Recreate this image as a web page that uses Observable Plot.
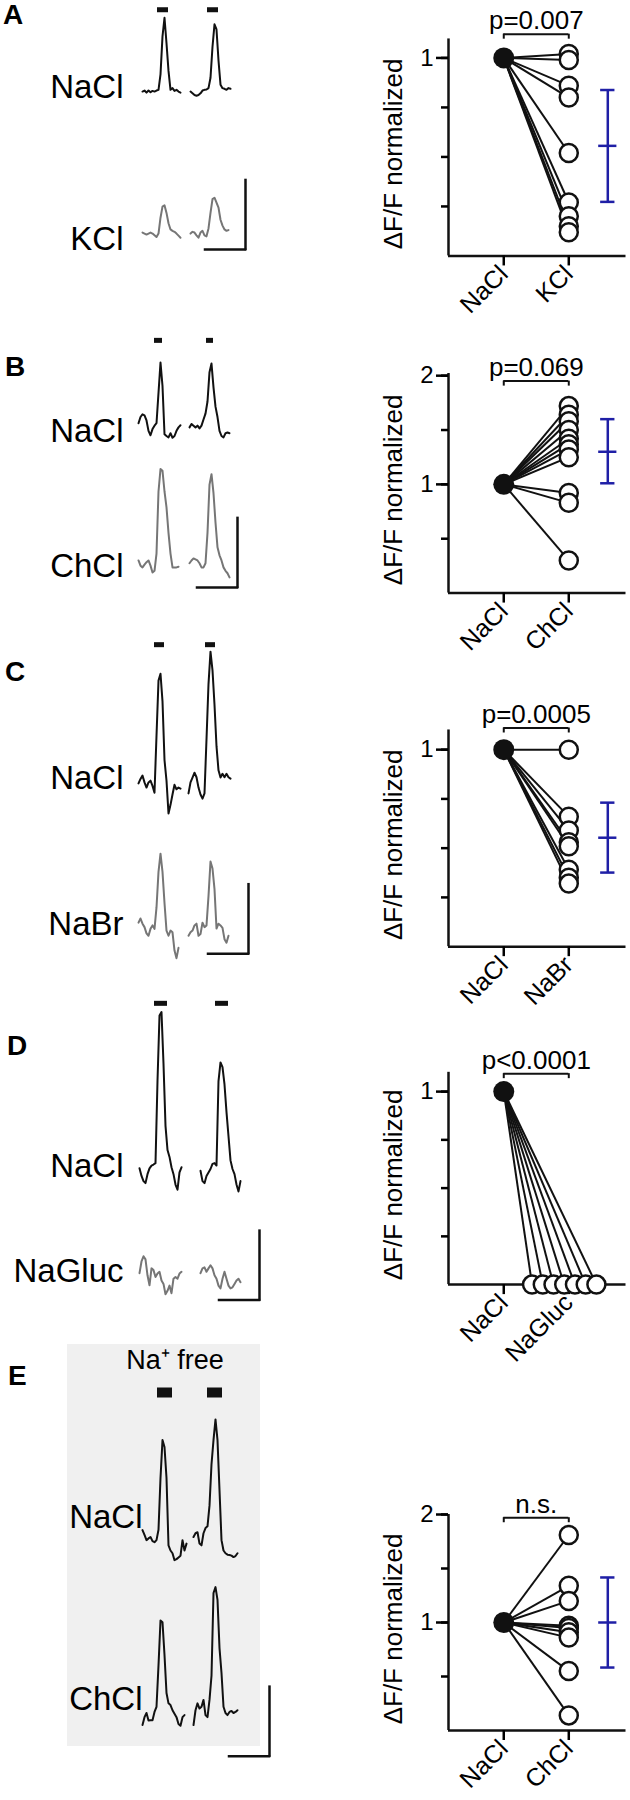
<!DOCTYPE html>
<html><head><meta charset="utf-8">
<script src="https://cdn.jsdelivr.net/npm/d3@7"></script>
<script src="https://cdn.jsdelivr.net/npm/@observablehq/plot@0.6"></script>
<style>
body{margin:0;background:#fff;}
#fig{position:relative;width:630px;height:1800px;overflow:hidden;font-family:"Liberation Sans",Arial,sans-serif;}
.box{position:absolute;}
.letter{position:absolute;font-weight:bold;font-size:28px;line-height:28px;color:#000;}
</style></head><body><div id="fig"></div>
<script>
// ================= DATA =================
const panelLetters = ["A", "B", "C", "D", "E"];
const controlName = "NaCl";
const testNames = ["KCl", "ChCl", "NaBr", "NaGluc", "ChCl"];
const pLabels = ["p=0.007", "p=0.069", "p=0.0005", "p<0.0001", "n.s."];
const yAxisTitle = "ΔF/F normalized";
const naFreeLabel = "Na⁺ free";

// normalized ΔF/F (test / NaCl), one value per cell; NaCl = 1
const controlValue = 1;
const kclValues    = [1.02, 0.99, 0.86, 0.80, 0.52, 0.27, 0.20, 0.15, 0.12];
const chclValues   = [1.72, 1.64, 1.58, 1.50, 1.42, 1.37, 1.32, 1.25, 0.92, 0.83, 0.30];
const nabrValues   = [1.00, 0.66, 0.59, 0.53, 0.51, 0.39, 0.35, 0.32];
const nagluValues  = [0, 0, 0, 0, 0, 0, 0];
const chclFreeValues = [1.81, 1.34, 1.20, 0.97, 0.95, 0.91, 0.86, 0.55, 0.14];

// mean ± SD of the test condition (null = not shown)
const meanValues = [0.556, 1.30, 0.553, null, 1.00];
const sdLow      = [0.273, 1.01, 0.376, null, 0.583];
const sdHigh     = [0.838, 1.60, 0.731, null, 1.417];

// y-axis ticks
const ticksMinorA = [0.25, 0.5, 0.75, 1];
const ticksMinorB = [0.5, 1, 1.5, 2];
const ticksMajorA = [1];
const ticksMajorB = [1, 2];

// example traces, %ΔF/F, two stimulations (sweeps) per condition
const traceA_NaCl = [
  [0, 0.3, -0.3, 0.3, -0.2, 0.2, 0, 0.3, 0.5, 5, 16, 21.4, 14, 6, 0.5, 1, 0.2, 0.5, 0, -0.3],
  [0, -0.5, -1, -1.2, -1, -0.5, 0.3, 0.5, 0.6, 1, 4, 13, 19.5, 18, 9, 2, 1, 0.8, 0.5, 1, 0.8]];
const traceA_KCl = [
  [0.3, 0, -0.3, 0, 0.3, 0, -0.5, -1, 0, 4.6, 7.8, 8.2, 6, 3, 1.2, 0.8, 0.5, 0, -0.6, -1.2],
  [0, 0.5, 0.3, -0.5, -1.2, 0.3, 0.8, -0.5, -0.8, 1.5, 6, 10, 10.4, 9, 7.5, 4, 2.3, 1.2, 0.8, 1]];
const traceB_NaCl = [
  [1.2, 3, 3.8, 3.5, 2, -1, -2.3, -0.5, 0.5, 1.2, 10, 18.8, 12, -2, -2.5, -2.9, -1.7, -3, -2.5, -1, 0, 0.6],
  [0, 1, 0.5, 0, 0.5, -0.3, 0.5, 2.3, 4, 7.5, 16, 18.5, 11.6, 6, 3, -1, -2.5, -2.9, -1.7, -1.5, -1.7]];
const traceB_ChCl = [
  [2, 0.5, 0, 0.8, 1.5, 2, 0.5, -1.5, -1, 4, 22, 28.5, 28, 22, 17.4, 10, 4, 0, 0, 0, 0.2],
  [1.2, 2, 2.6, 2.3, 2, 1.2, 0, 0, 1.2, 10, 24, 27, 21.5, 13, 5.8, 3.5, 2, 0, -1, -1.7, -2.9]];
const traceC_NaCl = [
  [1.2, 2.5, 3.5, 1.5, 0, 1.5, 2, 0.5, -1.5, 15, 31, 33, 25, 8, 2, -7.5, -5, -2, 0.8, -0.5, 0, -0.3],
  [-1.7, 1.5, 2.9, 4.3, 3, 0, -2, -3.2, -1.7, 14, 30, 39.4, 34, 24, 12, 5, 2.9, 4, 3, 4, 3, 2.6]];
const traceC_NaBr = [
  [2.3, 3.5, 2, 1, -0.8, -1.5, 0.5, 1.5, 0.5, 6.7, 17, 22.3, 17, 8, 0, -1.5, 0, -0.5, -5.8, -8, -5],
  [-1.5, -0.5, 0, 1.5, 2, -1.5, -1, 2.3, 1, 1.5, 10, 20, 18, 12, 0.6, 2, 1.5, 0.8, -2.5, -3.5, -1.5]];
const traceD_NaCl = [
  [-0.3, -2.5, -4, -4.6, -2, -0.3, 0.5, 0.8, 1.2, 25, 44, 45, 30, 12, 5, 3, 0, -2, -5, -6.5, -1.5, 0],
  [-1, -4, -4.6, -2.5, -1.5, -0.5, 1, 1.2, 0.5, 25, 30.4, 29, 24, 16, 9, 2, -0.5, -2, -5, -7, -4]];
const traceD_NaGluc = [
  [0.6, 4, 5.5, 4.6, 0, -2.9, 2, 1.5, -0.5, 0.5, 1, -1.5, -2.5, -5.5, -4.5, -3, -5.2, -1, -0.5, -1, 0.5, 1],
  [0.6, 2, 2.3, 1, 2, 2.9, 2, 0, -1, -3, -3.8, -1, 1, -1, -3, -3.8, -3.5, -2.5, -1.5, -1, -2]];
const traceE_NaCl = [
  [2.9, 1.5, 0, 0.5, 0.9, -0.3, -0.6, 0, 3, 18, 29, 27, 18, -1.5, -3, -3.8, -5.8, -5.5, -5, -4.5, 0, -3, -1],
  [0.9, 2, 2.3, -1, -1.5, 2, 3.5, 4, 10, 22, 29, 35, 29, 14.5, 0, -3, -3.8, -4.2, -4.3, -4.5, -4.9, -4.6, -3.8]];
const traceE_ChCl = [
  [-2.3, 0, 1.2, -1, -0.9, -0.9, 1.5, 3, 15, 28, 27.5, 18, 7, 4, 3.5, 2, 1, 0, -2, -2.5, 0, 0.6],
  [-2.3, 2, 4, 2.5, 3, 5, 0.6, 0, 5, 12, 36, 37.7, 34, 20, 12.8, 3, 1.2, 0.6, 1.5, 1.8, 1.2, 1.5, 2]];

// stimulus windows (samples from sweep start)
const stimA = [[7.5, 13], [8.5, 14]];
const stimB = [[8, 12], [8.5, 12]];
const stimC = [[8, 13], [8.5, 13.5]];
const stimD = [[7.5, 14], [7.5, 14]];
const stimE = [[7.5, 15], [7, 14.5]];

// ================= LAYOUT / DRAWING =================
const FONT = '"Liberation Sans", Arial, Helvetica, sans-serif';
const BLUE = "#1f1fa6";
const GRAY = "#767676";
const INK = "#111";
const PPU = 3.45;   // px per %ΔF/F in traces
const PPX = 2;      // px per sample in traces
const fig = document.getElementById("fig");

function place(node, left, top) {
  const d = document.createElement("div");
  d.className = "box";
  d.style.left = left + "px";
  d.style.top = top + "px";
  d.appendChild(node);
  fig.appendChild(d);
}
const baseStyle = {background: "transparent", overflow: "visible", fontFamily: FONT, color: "#000"};

// grey "Na+ free" background (panel E)
const grey = document.createElement("div");
grey.style.cssText = "position:absolute;left:67px;top:1344px;width:193px;height:402px;background:#f0f0f0;";
fig.appendChild(grey);

function tracePanel(p) {
  const ymin = p.ymax - p.S / PPU;
  const labels = [p.rows[0].label, p.rows[1].label];
  const marks = [];
  const stimData = p.stim.map(([a, b], si) => ({cond: labels[0], t1: a + si * p.gap, t2: b + si * p.gap}));
  marks.push(Plot.rect(stimData, {x1: "t1", x2: "t2", y1: p.stimTop, y2: p.stimTop - p.stimH / PPU, fy: "cond", fill: INK}));
  p.rows.forEach(r => {
    const data = r.sweeps.flatMap((arr, si) => arr.map((v, i) => ({cond: r.label, sweep: si, t: i + si * p.gap, v})));
    marks.push(Plot.line(data, {x: "t", y: "v", z: "sweep", fy: "cond", stroke: r.color, strokeWidth: 2, strokeLinejoin: "round"}));
  });
  marks.push(Plot.text(labels.map((l, i) => ({cond: l, t: p.labelT, y: p.labelY[i]})),
    {x: "t", y: "y", fy: "cond", text: "cond", textAnchor: "end", lineAnchor: "bottom", fontSize: 33, fill: "#000"}));
  const bar = [{cond: labels[1], t: p.bar.t, y: p.bar.y}];
  marks.push(Plot.ruleX(bar, {x: "t", y1: "y", y2: d => d.y + 20, fy: "cond", stroke: INK, strokeWidth: 2.5, strokeLinecap: "square"}));
  marks.push(Plot.ruleY(bar, {x1: d => d.t - 20, x2: "t", y: "y", fy: "cond", stroke: INK, strokeWidth: 2.5, strokeLinecap: "square"}));
  if (p.extraText) marks.push(Plot.text([{cond: labels[0], ...p.extraText}], {x: "t", y: "y", fy: "cond", text: "text", lineAnchor: "bottom", fontSize: 27, fill: "#000"}));
  const svg = Plot.plot({
    width: 300, height: 2 * p.S,
    marginTop: 0, marginRight: 0, marginBottom: 0, marginLeft: 0,
    x: {domain: [-p.x0 / PPX, (300 - p.x0) / PPX], axis: null},
    y: {domain: [ymin, p.ymax], axis: null},
    fy: {domain: labels, padding: 0, axis: null},
    style: baseStyle,
    marks
  });
  place(svg, 0, p.baseline1 - p.ymax * PPU);
}

function spreadX(values) {
  const groups = d3.group(values.map((v, i) => ({v, i})), d => d.v);
  const xs = new Array(values.length);
  for (const [, g] of groups) g.forEach((d, k) => xs[d.i] = 0.93 + (k - (g.length - 1) / 2) * 0.165);
  for (const [, g] of groups) if (g.length === 1) xs[g[0].i] = 1;
  return xs;
}

function respPanel(p) {
  const xmin = -0.85, xmax = 1.88;
  const H = p.ymaxR * p.P;
  const xs = spreadX(p.values);
  const pts = p.values.map((v, i) => ({x: xs[i], v}));
  const names = [controlName, p.test];
  const marks = [
    Plot.ruleX([xmin], {y1: 0, y2: p.axisTop, stroke: INK, strokeWidth: 2.5}),
    Plot.ruleY([0], {stroke: INK, strokeWidth: 2.5}),
    Plot.axisY(p.minor, {tickSize: 7, tickFormat: () => "", strokeWidth: 2.5, label: null}),
    Plot.axisY(p.major, {tickSize: 12, tickPadding: 3, tickFormat: d => String(d), fontSize: 24, strokeWidth: 2.5, label: null}),
    Plot.axisX([0, 1], {tickSize: 10, tickPadding: 4, tickRotate: -45, tickFormat: i => names[i], fontSize: 25, strokeWidth: 2.5, label: null}),
    Plot.link(pts, {x1: 0, y1: controlValue, x2: "x", y2: "v", stroke: INK, strokeWidth: 2}),
    Plot.dot(pts, {x: "x", y: "v", r: 9, fill: "white", stroke: INK, strokeWidth: 2.5}),
    Plot.dot([controlValue], {x: 0, y: d => d, r: 10.5, fill: INK}),
    Plot.ruleY([p.bracketY], {x1: 0, x2: 1, stroke: INK, strokeWidth: 2}),
    Plot.ruleX([0, 1], {x: d => d, y1: p.bracketY, y2: p.bracketY - 5 / p.P, stroke: INK, strokeWidth: 2}),
    Plot.text([p.pText], {x: 0.5, y: p.bracketY, dy: -5, text: d => d, lineAnchor: "bottom", fontSize: 26, fill: "#000"}),
    Plot.text([yAxisTitle], {x: xmin, y: p.axisTop * 0.47, dx: -55, rotate: -90, text: d => d, fontSize: 26, fill: "#000"})
  ];
  if (p.mean != null) {
    const ex = 1.6;
    marks.push(Plot.ruleX([p.mean], {x: ex, y1: p.lo, y2: p.hi, stroke: BLUE, strokeWidth: 2.5}));
    marks.push(Plot.ruleY([p.lo, p.hi], {y: d => d, x1: ex - 0.11, x2: ex + 0.11, stroke: BLUE, strokeWidth: 2.5}));
    marks.push(Plot.ruleY([p.mean], {y: d => d, x1: ex - 0.14, x2: ex + 0.14, stroke: BLUE, strokeWidth: 2.5}));
  }
  const svg = Plot.plot({
    width: 300, height: H + 95,
    marginTop: 0, marginBottom: 95, marginLeft: 118, marginRight: 4.5,
    x: {domain: [xmin, xmax]},
    y: {domain: [0, p.ymaxR]},
    style: baseStyle,
    marks
  });
  place(svg, 330, p.B0 - H);
}

// ---- panel A ----
tracePanel({rows: [{label: controlName, sweeps: traceA_NaCl, color: INK}, {label: testNames[0], sweeps: traceA_KCl, color: GRAY}],
  x0: 142, gap: 24, ymax: 26.4, baseline1: 91, S: 142, stim: stimA, stimTop: 24.3, stimH: 5,
  labelT: -9.5, labelY: [-2, -4.9], bar: {t: 51.5, y: -4.6}});
respPanel({B0: 255, P: 198, ymaxR: 1.28, axisTop: 1.096, minor: ticksMinorA, major: ticksMajorA, bracketY: 1.12,
  pText: pLabels[0], test: testNames[0], values: kclValues, mean: meanValues[0], lo: sdLow[0], hi: sdHigh[0]});
// ---- panel B ----
tracePanel({rows: [{label: controlName, sweeps: traceB_NaCl, color: INK}, {label: testNames[1], sweeps: traceB_ChCl, color: GRAY}],
  x0: 138, gap: 25.5, ymax: 27.5, baseline1: 427, S: 140, stim: stimB, stimTop: 25.8, stimH: 5,
  labelT: -7.5, labelY: [-4.3, -2.9], bar: {t: 49.5, y: -5.8}});
respPanel({B0: 593, P: 108.7, ymaxR: 2.25, axisTop: 2.02, minor: ticksMinorB, major: ticksMajorB, bracketY: 1.95,
  pText: pLabels[1], test: testNames[1], values: chclValues, mean: meanValues[1], lo: sdLow[1], hi: sdHigh[1]});
// ---- panel C ----
tracePanel({rows: [{label: controlName, sweeps: traceC_NaCl, color: INK}, {label: testNames[2], sweeps: traceC_NaBr, color: GRAY}],
  x0: 138, gap: 25, ymax: 43.5, baseline1: 787, S: 143, stim: stimC, stimTop: 42, stimH: 5,
  labelT: -7.5, labelY: [-0.3, -1.4], bar: {t: 55, y: -6.7}});
respPanel({B0: 946, P: 197, ymaxR: 1.28, axisTop: 1.10, minor: ticksMinorA, major: ticksMajorA, bracketY: 1.11,
  pText: pLabels[2], test: testNames[2], values: nabrValues, mean: meanValues[2], lo: sdLow[2], hi: sdHigh[2]});
// ---- panel D ----
tracePanel({rows: [{label: controlName, sweeps: traceD_NaCl, color: INK}, {label: testNames[3], sweeps: traceD_NaGluc, color: GRAY}],
  x0: 139, gap: 30.5, ymax: 49.5, baseline1: 1167, S: 108, stim: stimD, stimTop: 48.1, stimH: 5,
  labelT: -8, labelY: [-2.9, -2], bar: {t: 60, y: -7.2}});
respPanel({B0: 1284, P: 193, ymaxR: 1.27, axisTop: 1.10, minor: ticksMinorA, major: ticksMajorA, bracketY: 1.093,
  pText: pLabels[3], test: testNames[3], values: nagluValues, mean: meanValues[3], lo: sdLow[3], hi: sdHigh[3]});
// ---- panel E ----
tracePanel({rows: [{label: controlName, sweeps: traceE_NaCl, color: INK}, {label: testNames[4], sweeps: traceE_ChCl, color: INK}],
  x0: 142, gap: 25.5, ymax: 57, baseline1: 1540, S: 177, stim: stimE, stimTop: 44.1, stimH: 10,
  labelT: 0, labelY: [3.5, 2], bar: {t: 63.5, y: -11.3}, extraText: {t: 16.25, y: 49.6, text: naFreeLabel}});
respPanel({B0: 1730, P: 108, ymaxR: 2.25, axisTop: 2.0, minor: ticksMinorB, major: ticksMajorB, bracketY: 1.97,
  pText: pLabels[4], test: testNames[4], values: chclFreeValues, mean: meanValues[4], lo: sdLow[4], hi: sdHigh[4]});

// panel letters
const letterBaselines = [26, 378, 683, 1057, 1387];
const letterLefts = [3, 5, 5, 7, 8];
panelLetters.forEach((L, i) => {
  const d = document.createElement("div");
  d.className = "letter";
  d.textContent = L;
  d.style.left = letterLefts[i] + "px";
  d.style.top = (letterBaselines[i] - 25.3) + "px";
  fig.appendChild(d);
});
</script></body></html>
